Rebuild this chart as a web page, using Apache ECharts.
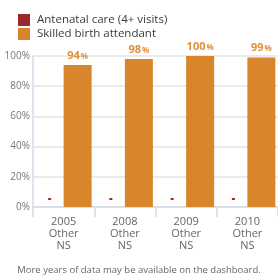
<!DOCTYPE html>
<html>
<head>
<meta charset="utf-8">
<script src="https://cdn.jsdelivr.net/npm/echarts@6/dist/echarts.min.js"></script>
<style>
    html, body { margin: 0; padding: 0; background: #fff; }
    #chart { width: 278px; height: 280px; }
</style>
</head>
<body>
<div id="chart"></div>
<script>
// data
var years = ['2005', '2008', '2009', '2010'];
var surveys = ['Other', 'Other', 'Other', 'Other'];
var sources = ['NS', 'NS', 'NS', 'NS'];
var antenatal = [0, 0, 0, 0];          // no data, shown as a small marker
var skilled = [94, 98, 100, 99];
var yTicks = [0, 20, 40, 60, 80, 100];

var categories = years.map(function (y, i) {
    return y + '\n' + surveys[i] + '\n' + sources[i];
});

var chart = echarts.init(document.getElementById('chart'));
var option = {
    animation: false,
    textStyle: { fontFamily: 'Open Sans' },
    legend: {
        orient: 'vertical',
        left: 13,
        top: 9,
        itemWidth: 12,
        itemHeight: 12,
        itemGap: 2,
        icon: 'rect',
        selectedMode: false,
        textStyle: { fontFamily: 'Open Sans', fontSize: 11.5, color: '#3a3a3a', padding: [0, 0, 0, 2] },
        data: ['Antenatal care (4+ visits)', 'Skilled birth attendant']
    },
    grid: { left: 33, right: 0, top: 56, bottom: 73 },
    xAxis: {
        type: 'category',
        data: categories,
        axisLine: { lineStyle: { color: '#d3dbea', width: 1.5 } },
        axisTick: { show: true, length: 10, lineStyle: { color: '#d3dbea', width: 1.5 } },
        axisLabel: { color: '#666', fontSize: 11, lineHeight: 12, margin: 9 }
    },
    yAxis: {
        type: 'value',
        min: yTicks[0],
        max: yTicks[yTicks.length - 1],
        interval: yTicks[1] - yTicks[0],
        axisLine: { show: true, lineStyle: { color: '#d3dbea', width: 1.5 } },
        axisTick: { show: false },
        axisLabel: { formatter: '{value}%', color: '#777', fontSize: 10, margin: 3 },
        splitLine: { lineStyle: { color: '#e3e3e3', width: 1.5 } }
    },
    series: [
        {
            name: 'Antenatal care (4+ visits)',
            type: 'bar',
            barWidth: 28,
            barGap: 0,
            itemStyle: { color: '#9b2a2f' },
            data: antenatal,
            label: {
                show: true,
                position: 'top',
                distance: 7,
                formatter: '{m|}',
                rich: { m: { width: 3, height: 2, backgroundColor: '#9b2a2f' } }
            }
        },
        {
            name: 'Skilled birth attendant',
            type: 'bar',
            barWidth: 28,
            itemStyle: { color: '#d9852b' },
            data: skilled,
            label: {
                show: true,
                position: 'top',
                distance: 4,
                formatter: function (p) { return '{v|' + p.value + '}{p|%}'; },
                rich: {
                    v: { color: '#e08f3a', fontSize: 11, fontWeight: 'bold', fontFamily: 'Open Sans' },
                    p: { color: '#e08f3a', fontSize: 8, fontWeight: 'bold', fontFamily: 'Open Sans', padding: [2, 0, 0, 1] }
                }
            }
        }
    ],
    graphic: [{
        type: 'text',
        left: 'center',
        top: 265,
        style: {
            text: 'More years of data may be available on the dashboard.',
            fill: '#666',
            fontSize: 9.5,
            fontFamily: 'Open Sans'
        }
    }]
};
chart.setOption(option);
</script>
</body>
</html>
